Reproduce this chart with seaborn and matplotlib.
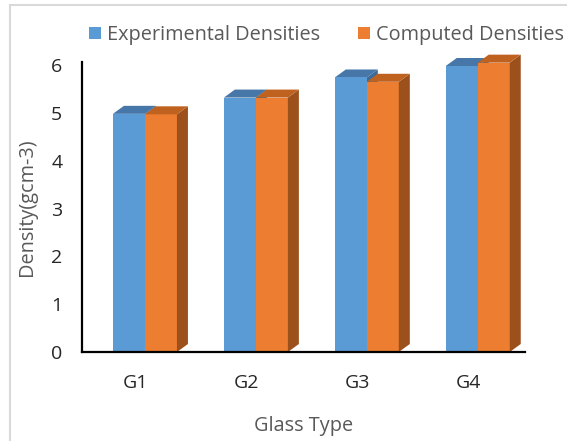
import numpy as np
import pandas as pd
import matplotlib
matplotlib.use("Agg")
import matplotlib.pyplot as plt
import matplotlib.transforms as mtransforms
from matplotlib.patches import Polygon, Rectangle
from matplotlib.lines import Line2D
import seaborn as sns

# ---- data ----
glass_types = ["G1", "G2", "G3", "G4"]
experimental = [4.98, 5.32, 5.74, 5.98]
computed = [4.97, 5.32, 5.65, 6.05]
series_names = ["Experimental Densities", "Computed Densities"]
y_ticks = [0, 1, 2, 3, 4, 5, 6]

front_colors = ["#5B9BD5", "#ED7D31"]
top_colors = ["#4677A8", "#BF6220"]
side_colors = ["#3E6A96", "#9C501C"]

df = pd.DataFrame({
    "Glass Type": glass_types * 2,
    "Density": experimental + computed,
    "Series": [series_names[0]] * 4 + [series_names[1]] * 4,
})

sns.set_theme(style="white")
plt.rcParams["font.family"] = ["Open Sans", "DejaVu Sans"]
FS = 14.3
TFS = 14

W, H, DPI = 567, 441, 100
fig = plt.figure(figsize=(W / DPI, H / DPI), dpi=DPI)
ax = fig.add_axes([81.7 / W, 1 - 352 / H, (525 - 81.7) / W, (352 - 61.7) / H])

sns.barplot(data=df, x="Glass Type", y="Density", hue="Series",
            palette=front_colors, width=0.577, ax=ax, legend=False,
            saturation=1, linewidth=0, zorder=1)

ax.set_xlim(-0.57, 3.426)
ax.set_ylim(0, 6.07)
ax.set_yticks(y_ticks)

for side in ["top", "right"]:
    ax.spines[side].set_visible(False)
for side in ["left", "bottom"]:
    ax.spines[side].set_color("black")
    ax.spines[side].set_linewidth(1.6)

ax.tick_params(axis="both", length=0, labelsize=TFS, labelcolor="#262626")
ax.tick_params(axis="y", pad=14)
ax.tick_params(axis="x", pad=16)
ax.set_xlabel("Glass Type", fontsize=FS, color="#595959", labelpad=17)
ax.set_ylabel("Density(gcm-3)", fontsize=FS, color="#595959", labelpad=10)

# shift category labels slightly left
shift = mtransforms.ScaledTranslation(-9 / DPI, 0, fig.dpi_scale_trans)
for lab in ax.get_xticklabels():
    lab.set_transform(lab.get_transform() + shift)

# ---- 3D depth faces (top and right side) built from the drawn bars ----
fig.canvas.draw()
dx, dy = 11, 8  # pixel depth offset
ident = mtransforms.IdentityTransform()
bars = [p for p in ax.patches if isinstance(p, Rectangle) and p.get_height() > 0]
n = len(glass_types)
for i, bar in enumerate(bars):
    s = i // n
    bb = bar.get_window_extent()
    x0, x1, y0, y1 = bb.x0, bb.x1, bb.y0, bb.y1
    z = 0.5 if s == 0 else 2
    side = Polygon([(x1, y0), (x1 + dx, y0 + dy), (x1 + dx, y1 + dy), (x1, y1)],
                   closed=True, facecolor=side_colors[s], edgecolor="none",
                   transform=ident, zorder=z, clip_on=False)
    top = Polygon([(x0, y1), (x1, y1), (x1 + dx, y1 + dy), (x0 + dx, y1 + dy)],
                  closed=True, facecolor=top_colors[s], edgecolor="none",
                  transform=ident, zorder=z + 0.1, clip_on=False)
    ax.add_artist(side)
    ax.add_artist(top)
    if s == 1:
        bar.set_zorder(1.5)

# ---- legend ----
handles = [Rectangle((0, 0), 1, 1, facecolor=c, edgecolor="none") for c in front_colors]
fig.legend(handles, series_names, loc="center left",
           bbox_to_anchor=(89 / W, 1 - 35 / H), ncol=2, frameon=False,
           fontsize=FS, labelcolor="#595959", handlelength=0.6,
           handleheight=0.6, handletextpad=0.32, columnspacing=1.9,
           borderpad=0, borderaxespad=0)

# ---- chart area border (top and left) ----
fig.add_artist(Line2D([10 / W, 1], [1 - 5 / H, 1 - 5 / H], color="#D9D9D9",
                      linewidth=1.5, transform=fig.transFigure))
fig.add_artist(Line2D([10 / W, 10 / W], [0, 1 - 5 / H], color="#D9D9D9",
                      linewidth=1.5, transform=fig.transFigure))

fig.savefig("out.png", dpi=DPI)
